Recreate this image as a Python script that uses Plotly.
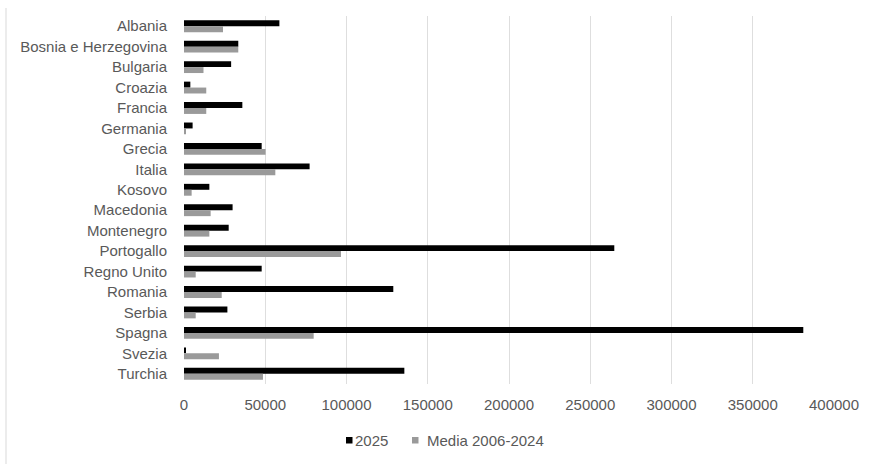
import plotly.graph_objects as go

countries = ["Albania", "Bosnia e Herzegovina", "Bulgaria", "Croazia", "Francia",
             "Germania", "Grecia", "Italia", "Kosovo", "Macedonia", "Montenegro",
             "Portogallo", "Regno Unito", "Romania", "Serbia", "Spagna", "Svezia",
             "Turchia"]
v2025 = [58700, 33400, 29000, 3900, 35900, 5300, 47800, 77300, 15600, 29900,
         27500, 264800, 47800, 128800, 26700, 381100, 1000, 135600]
media = [24000, 33400, 12000, 13700, 13700, 800, 50200, 56200, 4700, 16400,
         15600, 96600, 7200, 23200, 7200, 79800, 21500, 48600]
x_ticks = [0, 50000, 100000, 150000, 200000, 250000, 300000, 350000, 400000]
series_names = ["2025", "Media 2006-2024"]
series_colors = ["#000000", "#9a9a9a"]

W, H = 876, 464
L, R, T, B = 184, 42, 16, 80
FONT = "Liberation Sans"
TXT = "#595959"
FS = 15

fig = go.Figure()
for vals, name, col in zip([v2025, media], series_names, series_colors):
    fig.add_trace(go.Bar(y=countries, x=vals, orientation="h", name=name,
                         showlegend=False,
                         marker=dict(color=col, line=dict(width=0))))

pw = W - L - R
ph = H - T - B


def px_x(px):
    return (px - L) / pw


def px_y(py):
    return (H - B - py) / ph


# left chart-area border
fig.add_shape(type="line", xref="paper", yref="paper",
              x0=px_x(6), x1=px_x(6), y0=px_y(464), y1=px_y(8),
              line=dict(color="#d9d9d9", width=1))

# legend (Excel style: small square right before the text)
leg_x = [346, 412]
for lx, name, col in zip(leg_x, series_names, series_colors):
    fig.add_shape(type="rect", xref="paper", yref="paper",
                  x0=px_x(lx), x1=px_x(lx + 6.5),
                  y0=px_y(443.5), y1=px_y(437),
                  fillcolor=col, line=dict(width=0))
    fig.add_annotation(text=name, xref="paper", yref="paper",
                       x=px_x(lx + 7 if name == "2025" else lx + 13),
                       y=px_y(440), xanchor="left", yanchor="middle",
                       showarrow=False, font=dict(size=FS, color=TXT))

fig.update_layout(
    width=W, height=H,
    margin=dict(l=L, r=R, t=T, b=B, pad=0),
    paper_bgcolor="white", plot_bgcolor="white",
    barmode="group", bargap=0.42, bargroupgap=0,
    font=dict(family=FONT, size=FS, color=TXT),
    showlegend=False,
    xaxis=dict(range=[0, 400000], tickvals=x_ticks,
               ticktext=[str(v) for v in x_ticks],
               showgrid=True, gridcolor="#dedede", gridwidth=1,
               zeroline=False, showline=False, ticks="",
               ticklabelstandoff=10,
               tickfont=dict(size=FS, color=TXT)),
    yaxis=dict(autorange="reversed", showgrid=False, zeroline=False,
               showline=False, ticks="", ticklabelstandoff=16,
               tickfont=dict(size=FS, color=TXT)),
)

fig.write_html("out.html")
